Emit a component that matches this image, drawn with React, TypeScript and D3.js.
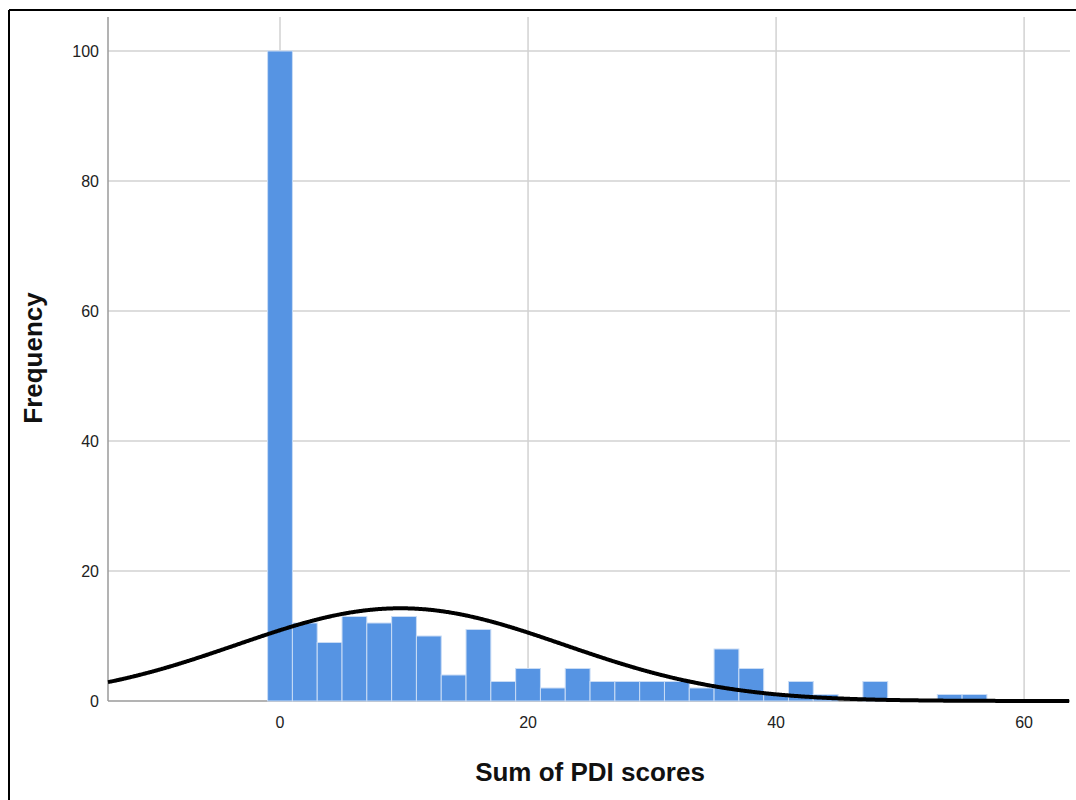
import React from "react";
import * as d3 from "d3";

// Histogram bins (bin centers, width 2) and frequencies
const binCenters = [0, 2, 4, 6, 8, 10, 12, 14, 16, 18, 20, 22, 24, 26, 28, 30, 32, 34, 36, 38, 40, 42, 44, 46, 48, 50, 52, 54, 56];
const frequencies = [100, 12, 9, 13, 12, 13, 10, 4, 11, 3, 5, 2, 5, 3, 3, 3, 3, 2, 8, 5, 1, 3, 1, 0, 3, 0, 0, 1, 1];
const binWidth = 2;
const xTicks = [0, 20, 40, 60];
const yTicks = [0, 20, 40, 60, 80, 100];
const normalMean = 9.7;
const normalSD = 13.2;

export default function App() {
  const W = 1076, H = 800;
  const left = 108, right = 1070, top = 17, bottom = 701;
  const x = d3.scaleLinear().domain([-13.87, 63.7]).range([left, right]);
  const y = d3.scaleLinear().domain([0, 100]).range([bottom, 51]);
  const N = d3.sum(frequencies);
  const xs = d3.range(-13.87, 63.71, 0.1);
  const dens = (v: number) =>
    (N * binWidth) / (normalSD * Math.sqrt(2 * Math.PI)) *
    Math.exp(-0.5 * ((v - normalMean) / normalSD) ** 2);
  const line = d3.line<number>().x((v) => x(v)).y((v) => y(dens(v))).curve(d3.curveBasis);
  const font = "Arial, 'Liberation Sans', sans-serif";
  return (
    <svg width={W} height={H} style={{ position: "absolute", left: 0, top: 0 }}>
      <rect width={W} height={H} fill="#fff" />
      {/* frame */}
      <line x1={9} x2={W} y1={10} y2={10} stroke="#000" strokeWidth={2} />
      <line x1={9} x2={9} y1={10} y2={H} stroke="#000" strokeWidth={2} />
      {/* grid */}
      {yTicks.filter((t) => t > 0).map((t) => (
        <line key={"gy" + t} x1={left} x2={right} y1={y(t)} y2={y(t)} stroke="#d2d2d2" strokeWidth={1.5} />
      ))}
      {xTicks.map((t) => (
        <line key={"gx" + t} x1={x(t)} x2={x(t)} y1={top} y2={bottom} stroke="#d2d2d2" strokeWidth={1.5} />
      ))}
      {/* axes */}
      <line x1={left} x2={left} y1={top} y2={bottom} stroke="#9a9a9a" strokeWidth={1.5} />
      <line x1={left} x2={right} y1={bottom} y2={bottom} stroke="#9a9a9a" strokeWidth={1.5} />
      {/* bars */}
      {binCenters.map((c, i) =>
        frequencies[i] > 0 ? (
          <rect
            key={"b" + c}
            x={x(c - binWidth / 2)}
            y={y(frequencies[i])}
            width={x(c + binWidth / 2) - x(c - binWidth / 2)}
            height={y(0) - y(frequencies[i])}
            fill="#5694e3"
            stroke="#c9dcf5"
            strokeWidth={1}
          />
        ) : null
      )}
      {/* normal curve */}
      <path d={line(xs) || ""} fill="none" stroke="#000" strokeWidth={4} />
      {/* y tick labels */}
      {yTicks.map((t) => (
        <text key={"yl" + t} x={99} y={y(t)} dy="0.35em" textAnchor="end" fontFamily={font} fontSize={16} fill="#222">
          {t}
        </text>
      ))}
      {xTicks.map((t) => (
        <text key={"xl" + t} x={x(t)} y={722} dy="0.35em" textAnchor="middle" fontFamily={font} fontSize={16} fill="#222">
          {t}
        </text>
      ))}
      <text x={590} y={772} dy="0.35em" textAnchor="middle" fontFamily={font} fontSize={26} fontWeight="bold" fill="#111">
        Sum of PDI scores
      </text>
      <text transform="translate(33,358) rotate(-90)" dy="0.35em" textAnchor="middle" fontFamily={font} fontSize={26} fontWeight="bold" fill="#111">
        Frequency
      </text>
    </svg>
  );
}
